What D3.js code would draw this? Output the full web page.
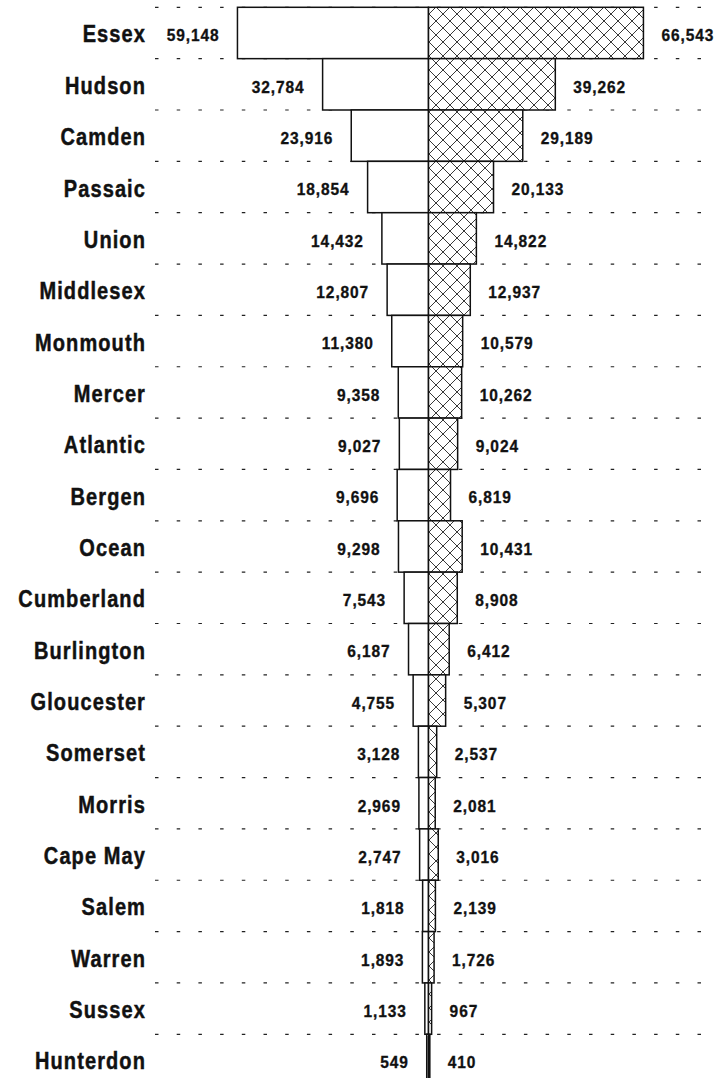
<!DOCTYPE html>
<html><head><meta charset="utf-8">
<script src="https://cdn.jsdelivr.net/npm/d3@7"></script>
<style>
html,body{margin:0;padding:0;background:#fff;}
svg{display:block;}
</style></head>
<body>
<script>
const counties = ["Essex","Hudson","Camden","Passaic","Union","Middlesex","Monmouth","Mercer","Atlantic","Bergen","Ocean","Cumberland","Burlington","Gloucester","Somerset","Morris","Cape May","Salem","Warren","Sussex","Hunterdon"];
const leftValues = [59148,32784,23916,18854,14432,12807,11380,9358,9027,9696,9298,7543,6187,4755,3128,2969,2747,1818,1893,1133,549];
const rightValues = [66543,39262,29189,20133,14822,12937,10579,10262,9024,6819,10431,8908,6412,5307,2537,2081,3016,2139,1726,967,410];

const W = 720, H = 1078;
const svg = d3.select("body").append("svg").attr("width", W).attr("height", H);

const defs = svg.append("defs");
const pat = defs.append("pattern").attr("id","hatch").attr("patternUnits","userSpaceOnUse")
  .attr("width",14).attr("height",14).attr("x",429).attr("y",0);
pat.append("rect").attr("width",14).attr("height",14).attr("fill","#fff");
pat.append("path").attr("d","M0,0L14,14M0,14L14,0M-1,1L1,-1M13,15L15,13M-1,13L1,15M13,-1L15,1")
  .attr("stroke","#222").attr("stroke-width",0.9).attr("fill","none");

const center = 428.5;
const k = 0.00323;
const x = d3.scaleLinear().domain([-70000, 70000]).range([center - 70000*k, center + 70000*k]);
const y = d3.scaleBand().domain(counties).range([7.3, 7.3 + 51.35*counties.length]).padding(0);

// dashed grid lines at band boundaries
const bounds = d3.range(counties.length).map(i => y(counties[i]));
svg.append("g").selectAll("line").data(bounds).join("line")
  .attr("x1",155).attr("x2",712).attr("y1",d=>d).attr("y2",d=>d)
  .attr("stroke","#222").attr("stroke-width",1.2).attr("stroke-dasharray","3.5,18.2");

const rows = counties.map((c,i)=>({c, l:leftValues[i], r:rightValues[i]}));

// left bars
svg.append("g").selectAll("rect").data(rows).join("rect")
  .attr("x", d=>x(-d.l)).attr("width", d=>x(0)-x(-d.l))
  .attr("y", d=>y(d.c)).attr("height", y.bandwidth())
  .attr("fill","#fff").attr("stroke","#111").attr("stroke-width",1.5);
// right bars
svg.append("g").selectAll("rect").data(rows).join("rect")
  .attr("x", x(0)).attr("width", d=>x(d.r)-x(0))
  .attr("y", d=>y(d.c)).attr("height", y.bandwidth())
  .attr("fill","url(#hatch)").attr("stroke","#111").attr("stroke-width",1.5);

const font = "'Liberation Sans', Arial, Helvetica, sans-serif";
// county labels
svg.append("g").selectAll("text").data(rows).join("text")
  .attr("transform", d=>`translate(146,${y(d.c)+y.bandwidth()/2+1.5}) scale(1,1.15)`)
  .attr("text-anchor","end").attr("dominant-baseline","central")
  .attr("font-family",font).attr("font-weight","bold").attr("font-size",20)
  .attr("letter-spacing",1.1).attr("fill","#111").attr("stroke","#111").attr("stroke-width",0.4)
  .text(d=>d.c);

const fmt = d3.format(",");
svg.append("g").selectAll("text").data(rows).join("text")
  .attr("transform", d=>`translate(${x(-d.l)-18},${y(d.c)+y.bandwidth()/2+2}) scale(1,1.1)`)
  .attr("text-anchor","end").attr("dominant-baseline","central")
  .attr("font-family",font).attr("font-weight","bold").attr("font-size",15.5)
  .attr("letter-spacing",0.9).attr("fill","#111").attr("stroke","#111").attr("stroke-width",0.3)
  .text(d=>fmt(d.l));
svg.append("g").selectAll("text").data(rows).join("text")
  .attr("transform", d=>`translate(${x(d.r)+18},${y(d.c)+y.bandwidth()/2+2}) scale(1,1.1)`)
  .attr("text-anchor","start").attr("dominant-baseline","central")
  .attr("font-family",font).attr("font-weight","bold").attr("font-size",15.5)
  .attr("letter-spacing",0.9).attr("fill","#111").attr("stroke","#111").attr("stroke-width",0.3)
  .text(d=>fmt(d.r));
</script>
</body></html>
